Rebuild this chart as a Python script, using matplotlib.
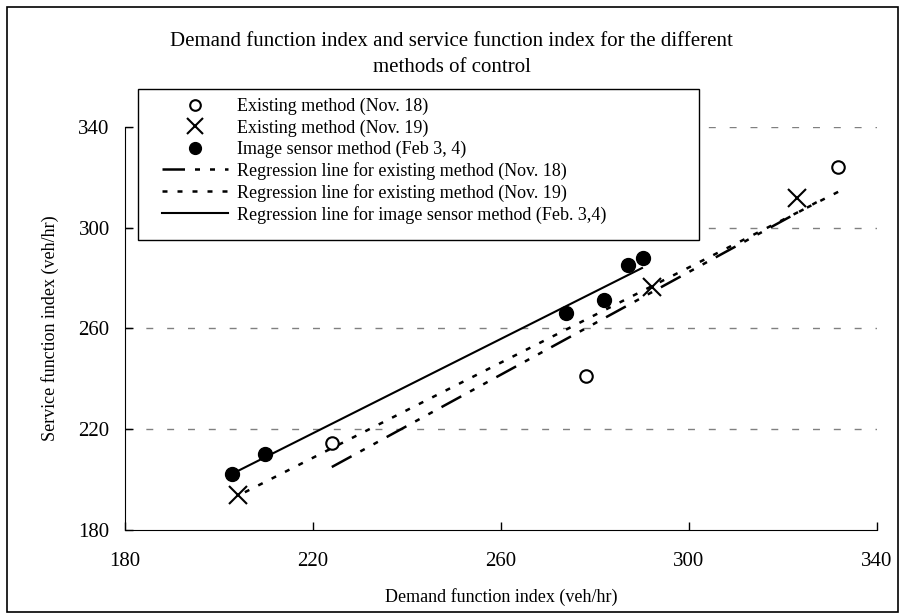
import matplotlib.pyplot as plt
from matplotlib.patches import Rectangle

# data
nov18_x = [224.0, 278.0, 331.7]
nov18_y = [214.5, 241.2, 324.0]
nov19_x = [204.0, 292.1, 323.0]
nov19_y = [193.9, 276.4, 311.7]
sensor_x = [202.8, 209.8, 273.8, 281.9, 287.0, 290.2]
sensor_y = [202.2, 210.2, 266.1, 271.3, 285.2, 287.9]

# regression line ends
reg18_x = [224.0, 328.0]
reg18_y = [205.0, 311.0]
reg19_x = [205.5, 332.0]
reg19_y = [195.0, 314.5]
regsensor_x = [203.0, 290.0]
regsensor_y = [202.5, 284.0]

ticks = [180, 220, 260, 300, 340]

plt.rcParams['font.family'] = ['Liberation Serif', 'DejaVu Serif']

W, H = 903, 614
fig = plt.figure(figsize=(W/100, H/100), dpi=100)
ax = fig.add_axes([125/W, 1-530/H, (877-125)/W, (530-127)/H])

for t in ticks[1:]:
    ax.axhline(t, color='#808080', lw=1, dashes=(5, 10), zorder=0)

ax.plot(nov18_x, nov18_y, 'o', ms=9, mfc='white', mec='black', mew=1.5,
        label='Existing method (Nov. 18)', zorder=3)
ax.plot(nov19_x, nov19_y, 'x', ms=13, color='black', mew=1.5,
        label='Existing method (Nov. 19)', zorder=3)
ax.plot(sensor_x, sensor_y, 'o', ms=10, color='black',
        label='Image sensor method (Feb 3, 4)', zorder=3)
ax.plot(reg18_x, reg18_y, color='black', lw=1.8, dashes=(9, 4, 2, 4, 2, 4),
        label='Regression line for existing method (Nov. 18)')
ax.plot(reg19_x, reg19_y, color='black', lw=1.8, dashes=(2, 4),
        label='Regression line for existing method (Nov. 19)')
ax.plot(regsensor_x, regsensor_y, color='black', lw=1.5,
        label='Regression line for image sensor method (Feb. 3,4)')

ax.set_xlim(180, 340)
ax.set_ylim(180, 340)
ax.set_xticks(ticks)
ax.set_yticks(ticks)
ax.tick_params(direction='in', length=6, width=1, labelsize=15)
ax.tick_params(axis='x', pad=16)
ax.tick_params(axis='y', pad=11)
ax.spines['top'].set_visible(False)
ax.spines['right'].set_visible(False)
ax.set_xlabel('Demand function index (veh/hr)', fontsize=13, labelpad=12)
ax.set_ylabel('Service function index (veh/hr)', fontsize=13, labelpad=14)

# legend box drawn separately so the padding matches
fig.patches.append(Rectangle((138/W, 1-240/H), (699-138)/W, (240-89)/H, transform=fig.transFigure,
                             facecolor='white', edgecolor='black', lw=1, zorder=4))
leg = fig.legend(loc='upper left', bbox_to_anchor=(162/W, 1-98/H),
                 borderaxespad=0, borderpad=0, fontsize=13, handlelength=3.65,
                 handletextpad=0.5, labelspacing=0.22, frameon=False, markerscale=0.85)
leg.set_zorder(5)

fig.text(0.5, 1-42/H, 'Demand function index and service function index for the different',
         ha='center', va='center', fontsize=15)
fig.text(0.5, 1-67/H, 'methods of control', ha='center', va='center', fontsize=15)

fig.patches.append(Rectangle((7/W, 2/H), 891/W, 605/H, transform=fig.transFigure,
                             fill=False, edgecolor='black', lw=1.2))

fig.savefig('out.png', dpi=100)
